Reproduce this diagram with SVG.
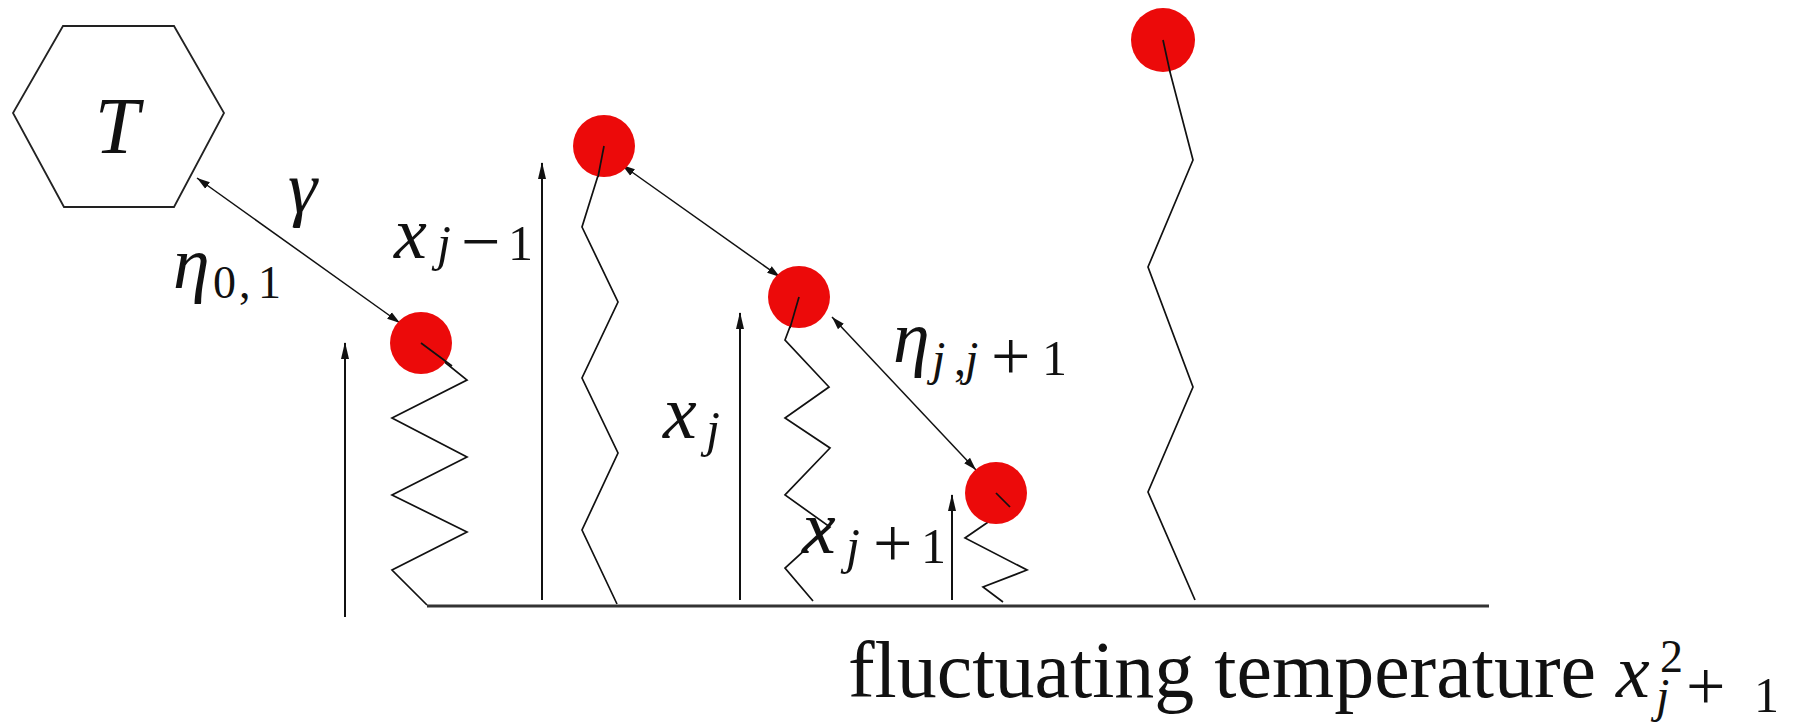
<svg xmlns="http://www.w3.org/2000/svg" width="1802" height="726" viewBox="0 0 1802 726">
<defs>
<style>
.hex{fill:none;stroke:#222;stroke-width:1.8}
.mass{fill:#ec0a0a}
.spring{fill:none;stroke:#111;stroke-width:1.7;stroke-linejoin:miter}
.ground{stroke:#333;stroke-width:3}
.meas{stroke:#111;stroke-width:2;fill:none}
.coup{stroke:#111;stroke-width:1.5;fill:none}
.m{font-family:"Liberation Serif","DejaVu Serif",serif;font-style:italic;fill:#111}
.r{font-family:"Liberation Serif","DejaVu Serif",serif;fill:#111}
</style>
<marker id="hv" markerUnits="userSpaceOnUse" markerWidth="18" markerHeight="10" refX="16" refY="5" orient="auto"><path d="M0,1 L17,5 L0,9 z" fill="#111"/></marker>
<marker id="hd" markerUnits="userSpaceOnUse" markerWidth="14" markerHeight="10" refX="13" refY="5" orient="auto-start-reverse"><path d="M0,1 L13,5 L0,9 z" fill="#111"/></marker>
</defs>
<rect width="1802" height="726" fill="#fff"/>

<g id="ground"><line class="ground" x1="427" y1="606" x2="1489" y2="606"/></g>

<g id="connectors">
<g id="springs">
<polyline class="spring" points="421,343 467,380 392,418 467,457 392,495 467,532 392,570 427,605"/>
<polyline class="spring" points="606,150 582,227 618,302 582,378 618,453 582,530 617,604"/>
<polyline class="spring" points="800,300 785,340 829,387 785,418 830,448 785,495 830,527 785,568 813,601"/>
<polyline class="spring" points="998,495 1010,507 965,538 1027,570 983,587 1003,602"/>
<polyline class="spring" points="1163,40 1170,72 1193,160 1148,267 1193,387 1148,492 1195,600"/>
</g>
<g id="couplings">
<line class="coup" x1="197" y1="178" x2="400" y2="323" marker-start="url(#hd)" marker-end="url(#hd)"/>
<line class="coup" x1="622" y1="165" x2="780" y2="277" marker-start="url(#hd)" marker-end="url(#hd)"/>
<line class="coup" x1="832" y1="317" x2="976" y2="470" marker-start="url(#hd)" marker-end="url(#hd)"/>
</g>
<g id="heights">
<line class="meas" x1="345" y1="617" x2="345" y2="343" marker-end="url(#hv)"/>
<line class="meas" x1="542" y1="600" x2="542" y2="163" marker-end="url(#hv)"/>
<line class="meas" x1="740" y1="600" x2="740" y2="313" marker-end="url(#hv)"/>
<line class="meas" x1="952" y1="600" x2="952" y2="495" marker-end="url(#hv)"/>
</g>
</g>

<g id="node-T">
<polygon class="hex" points="63,26 174,26 224,113 174,207 64,207 13,113"/>
<text class="m" x="117" y="153" font-size="80" text-anchor="middle">T</text>
</g>
<g id="mass-1"><circle class="mass" cx="421" cy="343" r="31"/></g>
<g id="mass-2"><circle class="mass" cx="604" cy="146" r="31"/></g>
<g id="mass-3"><circle class="mass" cx="799" cy="297" r="31"/></g>
<g id="mass-4"><circle class="mass" cx="996" cy="493" r="31"/></g>
<g id="mass-5"><circle class="mass" cx="1163" cy="40" r="32"/></g>

<g id="spring-lines-over">
<line class="spring" x1="421" y1="343" x2="452" y2="366"/>
<line class="spring" x1="604" y1="146" x2="598" y2="177"/>
<line class="spring" x1="799" y1="297" x2="790" y2="328"/>
<line class="spring" x1="996" y1="493" x2="1010" y2="507"/>
<line class="spring" x1="1163" y1="40" x2="1170" y2="72"/>
</g>

<g id="labels">
<text class="m" x="288" y="212" font-size="74">γ</text>
<text class="m" x="173" y="288" font-size="74">η</text>
<text class="r" x="213 239 258" y="298" font-size="46">0,1</text>
<text class="m" x="394" y="258" font-size="74">x</text>
<text class="m" x="437" y="260" font-size="50">j</text>
<text class="r" x="461" y="265" font-size="70">−</text>
<text class="r" x="508" y="260" font-size="50">1</text>
<text class="m" x="663" y="438" font-size="76">x</text>
<text class="m" x="706" y="446" font-size="50">j</text>
<text class="m" x="893" y="362" font-size="74">η</text>
<text class="m" x="932" y="375" font-size="48">j</text>
<text class="r" x="954" y="375" font-size="48">,</text>
<text class="m" x="965" y="375" font-size="48">j</text>
<text class="r" x="991" y="380" font-size="70">+</text>
<text class="r" x="1042" y="375" font-size="50">1</text>
<text class="m" x="802" y="553" font-size="76">x</text>
<text class="m" x="846" y="563" font-size="50">j</text>
<text class="r" x="873" y="567" font-size="70">+</text>
<text class="r" x="921" y="563" font-size="50">1</text>
<text class="r" x="848" y="697" font-size="80" textLength="748" lengthAdjust="spacingAndGlyphs">fluctuating temperature</text>
<text class="m" x="1616" y="697" font-size="76">x</text>
<text class="r" x="1660" y="672" font-size="46">2</text>
<text class="m" x="1656" y="712" font-size="48">j</text>
<text class="r" x="1686" y="710" font-size="70">+</text>
<text class="r" x="1754" y="712" font-size="50">1</text>
</g>
</svg>
